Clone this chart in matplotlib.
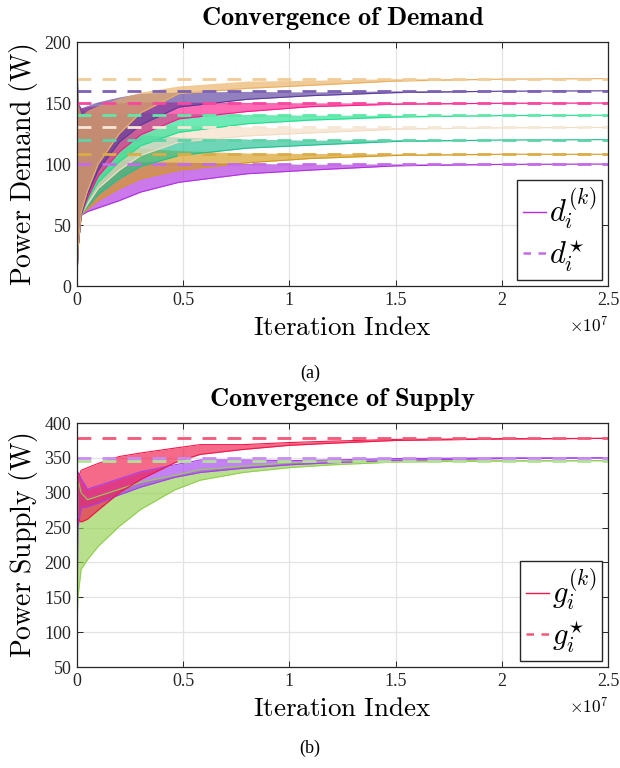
import matplotlib
matplotlib.use("Agg")
import matplotlib.pyplot as plt
from matplotlib.lines import Line2D

plt.rcParams['font.family'] = ['Liberation Serif', 'DejaVu Serif']
plt.rcParams['mathtext.fontset'] = 'cm'

d_iters = [0, 0.005, 0.02, 0.05, 0.1, 0.2, 0.3, 0.48, 0.8, 1.1, 1.5, 2.0, 2.5]

# demand targets d_i*
d_targets = [100, 108, 120, 130, 140, 150, 160, 170]

# lower / upper envelopes of the oscillating d_i^(k)
d100_lo = [2, 30, 58, 61, 64, 70, 77, 85, 92, 95, 98.5, 99.7, 100]
d100_hi = [200, 150, 140, 125, 112, 104, 102, 101.5, 100.5, 99.5, 100, 100, 100]
d108_lo = [2, 30, 58, 63, 70, 80, 88, 95, 101, 104.5, 107, 108, 108]
d108_hi = [200, 150, 142, 135, 125, 116, 113, 111, 109, 108.6, 108.3, 108, 108]
d120_lo = [2, 30, 58, 65, 75, 88, 98, 107, 113, 115.5, 118.5, 119.7, 120]
d120_hi = [200, 150, 143, 138, 132, 127, 124, 122, 120.5, 119.5, 120, 120, 120]
d130_lo = [2, 30, 58, 67, 80, 95, 107, 118, 123, 125.5, 128.5, 129.7, 130]
d130_hi = [200, 150, 144, 140, 137, 135, 133, 131.7, 130.5, 129.3, 130, 130, 130]
d140_lo = [2, 30, 58, 70, 85, 102, 115, 126, 133, 136, 138.5, 139.7, 140]
d140_hi = [200, 150, 145, 143, 142, 142, 142, 141.5, 140.7, 140, 140, 140, 140]
d150_lo = [2, 30, 58, 72, 90, 110, 124, 137, 143, 147, 149, 149.8, 150]
d150_hi = [200, 150, 146, 147, 148, 150, 151, 150.8, 150.5, 150, 150, 150, 150]
d160_lo = [2, 30, 58, 75, 95, 118, 132, 146.7, 153, 156, 158.5, 159.7, 160]
d160_hi = [200, 150, 146, 148, 151, 155, 158, 159, 159.5, 159, 160, 160, 160]
d170_lo = [2, 30, 60, 78, 100, 125, 142, 157.7, 162, 164.5, 168, 169.6, 170]
d170_hi = [200, 150, 140, 144, 148, 154, 159, 164, 168, 168.6, 170, 170, 170]

# supply
g_iters = [0, 0.005, 0.02, 0.05, 0.1, 0.2, 0.3, 0.46, 0.58, 0.78, 1.0, 1.2, 1.5, 2.0, 2.5]
g_targets = [378, 350, 346]
g378_lo = [245, 262, 258, 262, 275, 300, 319, 343, 355, 362, 368, 371, 375, 377, 378]
g378_hi = [250, 320, 332, 336, 342, 352, 357, 364, 369, 369, 372, 374, 376.5, 377.5, 378]
g350_lo = [100, 250, 278, 280, 285, 297, 308, 322, 329, 335, 340, 343, 346.5, 349, 350]
g350_hi = [100, 330, 320, 305, 310, 320, 330, 340, 347, 347, 346, 347, 349, 350, 350]
g346_lo = [100, 150, 190, 204, 223, 252, 276, 304, 318, 329, 336, 340, 344, 345.5, 346]
g346_hi = [100, 320, 300, 290, 295, 305, 315, 325, 333, 338, 343, 345, 345.8, 346, 346]

d_series = [(d100_lo, d100_hi), (d108_lo, d108_hi), (d120_lo, d120_hi), (d130_lo, d130_hi),
            (d140_lo, d140_hi), (d150_lo, d150_hi), (d160_lo, d160_hi), (d170_lo, d170_hi)]
d_colors = ['#b030e0', '#d49a18', '#20c090', '#f3dcc4', '#20e090', '#ff1a8c', '#5a3c9c', '#eab060']
d_dash = ['#c46ce8', '#dcac48', '#5cd4a8', '#f6e6d6', '#60e8a8', '#f5489e', '#7c62b4', '#f2cc98']

g_series = [(g346_lo, g346_hi), (g350_lo, g350_hi), (g378_lo, g378_hi)]
g_order = [2, 1, 0]  # colour index for each g_series entry
g_colors = ['#f0184a', '#a53ef0', '#92d050']
g_dash = ['#f25878', '#c88cf2', '#b4e09a']

fig = plt.figure(figsize=(6.2, 7.68), dpi=100)
ax1 = fig.add_axes([0.124, 0.6276, 0.857, 0.3177])
ax2 = fig.add_axes([0.124, 0.1315, 0.857, 0.3177])


def style(ax, ylim, yticks, ylabel, title):
    ax.set_xlim(0, 2.5)
    ax.set_ylim(*ylim)
    ax.set_xticks([0, 0.5, 1, 1.5, 2, 2.5])
    ax.set_xticklabels(['0', '0.5', '1', '1.5', '2', '2.5'])
    ax.set_yticks(yticks)
    ax.grid(True, color='#e3e3e3', lw=0.9)
    ax.set_axisbelow(True)
    ax.tick_params(direction='in', top=True, right=True, length=4, width=0.7,
                   colors='#262626', labelsize=13, pad=4)
    for s in ax.spines.values():
        s.set_color('#262626')
        s.set_linewidth(0.9)
    ax.set_xlabel(r'$\mathrm{Iteration\ Index}$', fontsize=19.5, labelpad=5)
    ax.set_ylabel(ylabel, fontsize=20, labelpad=3)
    ax.set_title(title, fontsize=19, pad=12)
    ax.text(1.0, -0.125, r'$\times10^{7}$', transform=ax.transAxes, ha='right',
            va='top', fontsize=12.5)


# demand
for (lo, hi), c in zip(d_series, d_colors):
    ax1.fill_between(d_iters, lo, hi, color=c, alpha=0.65, lw=0)
    ax1.plot(d_iters, lo, color=c, lw=0.8)
for t, c in zip(d_targets, d_dash):
    ax1.plot([0, 2.5], [t, t], color=c, lw=2.0, ls=(0, (5, 4)))
style(ax1, (0, 200), [0, 50, 100, 150, 200], r'$\mathrm{Power\ Demand\ (W)}$',
      r'$\mathbf{Convergence\ of\ Demand}$')
h1 = [Line2D([], [], color=d_colors[0], lw=1.0),
      Line2D([], [], color=d_dash[0], lw=1.8, ls=(0, (3, 3)))]
ax1.legend(h1, [r'$d_i^{(k)}$', r'$d_i^{\star}$'], loc='lower right', fontsize=22,
           handlelength=0.75, handletextpad=0.1, borderpad=0.2, labelspacing=0.15,
           borderaxespad=0.2, fancybox=False, edgecolor='#262626', framealpha=1)

# supply
for (lo, hi), c in zip(g_series, [g_colors[i] for i in g_order]):
    ax2.fill_between(g_iters, lo, hi, color=c, alpha=0.65, lw=0)
    ax2.plot(g_iters, lo, color=c, lw=0.8)
    ax2.plot(g_iters, hi, color=c, lw=0.8)
for t, c in zip(g_targets, g_dash):
    ax2.plot([0, 2.5], [t, t], color=c, lw=2.0, ls=(0, (5, 4)))
style(ax2, (50, 400), [50, 100, 150, 200, 250, 300, 350, 400], r'$\mathrm{Power\ Supply\ (W)}$',
      r'$\mathbf{Convergence\ of\ Supply}$')
h2 = [Line2D([], [], color=g_colors[0], lw=1.0),
      Line2D([], [], color=g_dash[0], lw=1.8, ls=(0, (3, 3)))]
ax2.legend(h2, [r'$g_i^{(k)}$', r'$g_i^{\star}$'], loc='lower right', fontsize=22,
           handlelength=0.75, handletextpad=0.1, borderpad=0.2, labelspacing=0.15,
           borderaxespad=0.2, fancybox=False, edgecolor='#262626', framealpha=1)

fig.text(0.5, 1 - 373 / 768, '(a)', ha='center', va='center', fontsize=13)
fig.text(0.5, 1 - 748 / 768, '(b)', ha='center', va='center', fontsize=13)

fig.savefig('out.png', dpi=100)
